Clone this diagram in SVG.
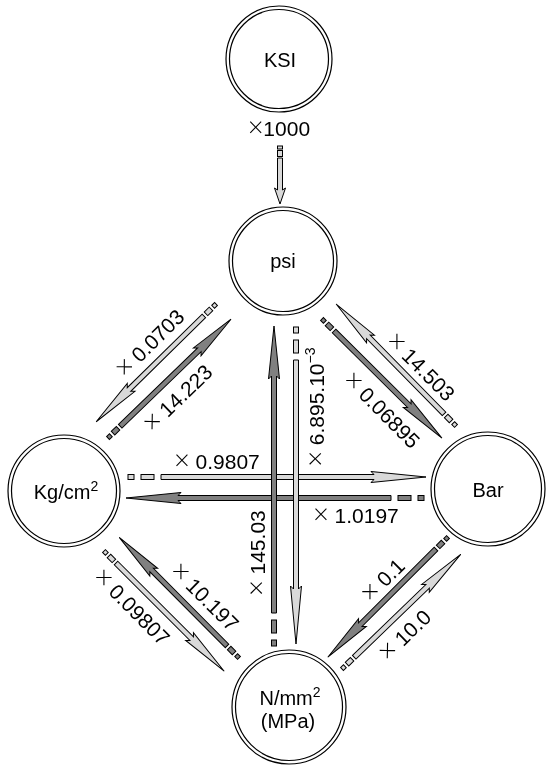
<svg xmlns="http://www.w3.org/2000/svg" width="546" height="767" viewBox="0 0 546 767">
<style>
.lt{fill:#d9d9d9;stroke:#000;stroke-width:1}
.dk{fill:#808080;stroke:#000;stroke-width:1}
.ring{fill:none;stroke:#000;stroke-width:1.2}
.bg{fill:#fff;stroke:#000;stroke-width:1.2}
text{font-family:"Liberation Sans",Arial,sans-serif;font-size:21px;fill:#000;text-anchor:middle}
.nt{font-size:20px}
.mx{font-family:"Open Sans","DejaVu Sans",sans-serif;font-weight:300;font-size:27px}
.sup{font-size:14px}
</style>
<rect width="546" height="767" fill="#fff"/>
<g id="connectors">
  <g id="a-ksi-psi" class="lt" transform="translate(280,146) rotate(90)">
    <rect x="0" y="-2.5" width="3" height="5"/><rect x="4.5" y="-2.5" width="6" height="5"/>
    <path d="M12,-2.5H44L42,-5.5L58,0L42,5.5L44,2.5H12Z"/>
  </g>
  <g id="a-psi-kg" class="lt" transform="translate(216,304) rotate(135.5)">
    <rect x="0" y="-2" width="4" height="4"/><rect x="7" y="-2.5" width="7" height="5"/>
    <path d="M17,-2.5H122L119,-5.5L168,0L119,5.5L122,2.5H17Z"/>
  </g>
  <g id="a-kg-psi" class="dk" transform="translate(108,438) rotate(-44)">
    <rect x="0" y="-2" width="4" height="4"/><rect x="7" y="-2.5" width="7" height="5"/>
    <path d="M17,-2.5H127L124,-5.5L171,0L124,5.5L127,2.5H17Z"/>
  </g>
  <g id="a-bar-psi" class="lt" transform="translate(456,426) rotate(225.5)">
    <rect x="0" y="-2" width="4" height="4"/><rect x="7" y="-2.5" width="7" height="5"/>
    <path d="M17,-2.5H125L122,-5.5L171,0L122,5.5L125,2.5H17Z"/>
  </g>
  <g id="a-psi-bar" class="dk" transform="translate(322,319) rotate(44.8)">
    <rect x="0" y="-2" width="4" height="4"/><rect x="7" y="-2.5" width="7" height="5"/>
    <path d="M17,-2.5H123L120,-5.5L169,0L120,5.5L123,2.5H17Z"/>
  </g>
  <g id="a-kg-bar" class="lt" transform="translate(128,477)">
    <rect x="0" y="-2.5" width="6" height="5"/><rect x="13" y="-2.5" width="13" height="5"/>
    <path d="M33,-2.5H246L243,-5.5L298,0L243,5.5L246,2.5H33Z"/>
  </g>
  <g id="a-bar-kg" class="dk" transform="translate(424,498) rotate(180)">
    <rect x="0" y="-2.5" width="6" height="5"/><rect x="13" y="-2.5" width="13" height="5"/>
    <path d="M33,-2.5H246L243,-5.5L298,0L243,5.5L246,2.5H33Z"/>
  </g>
  <g id="a-n-psi" class="dk" transform="translate(274,646) rotate(-90)">
    <rect x="0" y="-2.5" width="6" height="5"/><rect x="13" y="-2.5" width="13" height="5"/>
    <path d="M33,-2.5H270L267,-5.5L320,0L267,5.5L270,2.5H33Z"/>
  </g>
  <g id="a-psi-n" class="lt" transform="translate(296,327) rotate(90)">
    <rect x="0" y="-2.5" width="6" height="5"/><rect x="13" y="-2.5" width="13" height="5"/>
    <path d="M33,-2.5H262L259,-5.5L317,0L259,5.5L262,2.5H33Z"/>
  </g>
  <g id="a-bar-n" class="dk" transform="translate(448,537) rotate(135)">
    <rect x="0" y="-2" width="4" height="4"/><rect x="7" y="-2.5" width="7" height="5"/>
    <path d="M17,-2.5H124L121,-5.5L170,0L121,5.5L124,2.5H17Z"/>
  </g>
  <g id="a-n-bar" class="lt" transform="translate(342,669) rotate(-44)">
    <rect x="0" y="-2" width="4" height="4"/><rect x="7" y="-2.5" width="7" height="5"/>
    <path d="M17,-2.5H119L116,-5.5L165,0L116,5.5L119,2.5H17Z"/>
  </g>
  <g id="a-n-kg" class="dk" transform="translate(239,658) rotate(225.2)">
    <rect x="0" y="-2" width="4" height="4"/><rect x="7" y="-2.5" width="7" height="5"/>
    <path d="M17,-2.5H124L121,-5.5L170,0L121,5.5L124,2.5H17Z"/>
  </g>
  <g id="a-kg-n" class="lt" transform="translate(104,551) rotate(45)">
    <rect x="0" y="-2" width="4" height="4"/><rect x="7" y="-2.5" width="7" height="5"/>
    <path d="M17,-2.5H124L121,-5.5L170,0L121,5.5L124,2.5H17Z"/>
  </g>
</g>
<g id="labels" opacity="0.999">
  <text x="279" y="136"><tspan class="mx" dy="1">×</tspan><tspan dy="-1">1000</tspan></text>
  <text transform="translate(150,343) rotate(-44.5)" y="7.5"><tspan class="mx" dy="1">×</tspan><tspan dy="-1"> 0.0703</tspan></text>
  <text transform="translate(178,398) rotate(-44)" y="7.5"><tspan class="mx" dy="1">×</tspan><tspan dy="-1"> 14.223</tspan></text>
  <text transform="translate(421,367) rotate(45)" y="7.5"><tspan class="mx" dy="1">×</tspan><tspan dy="-1"> 14.503</tspan></text>
  <text transform="translate(382,410) rotate(45)" y="7.5"><tspan class="mx" dy="1">×</tspan><tspan dy="-1"> 0.06895</tspan></text>
  <text transform="translate(217,461)" y="7.5"><tspan class="mx" dy="1">×</tspan><tspan dy="-1"> 0.9807</tspan></text>
  <text transform="translate(356,515.5)" y="7.5"><tspan class="mx" dy="1">×</tspan><tspan dy="-1"> 1.0197</tspan></text>
  <text transform="translate(257,553) rotate(-90)" y="7.5"><tspan class="mx" dy="1">×</tspan><tspan dy="-1"> 145.03</tspan></text>
  <text transform="translate(316,407) rotate(-90)" y="7.5"><tspan class="mx" dy="1">×</tspan><tspan dy="-1"> 6.895.10</tspan><tspan class="sup" dy="-9">−3</tspan></text>
  <text transform="translate(205,597) rotate(45)" y="7.5"><tspan class="mx" dy="1">×</tspan><tspan dy="-1"> 10.197</tspan></text>
  <text transform="translate(132,607) rotate(45)" y="7.5"><tspan class="mx" dy="1">×</tspan><tspan dy="-1"> 0.09807</tspan></text>
  <text transform="translate(383,580) rotate(-45)" y="7.5"><tspan class="mx" dy="1">×</tspan><tspan dy="-1"> 0.1</tspan></text>
  <text transform="translate(405,635) rotate(-44)" y="7.5"><tspan class="mx" dy="1">×</tspan><tspan dy="-1"> 10.0</tspan></text>
</g>
<g id="n-ksi"><circle class="bg" cx="279" cy="59" r="53"/><circle class="ring" cx="279" cy="59" r="49.5"/><text class="nt" x="280" y="67">KSI</text></g>
<g id="n-psi"><circle class="bg" cx="283" cy="261" r="54"/><circle class="ring" cx="283" cy="261" r="50.5"/><text class="nt" x="283" y="268">psi</text></g>
<g id="n-kg"><circle class="bg" cx="64" cy="491" r="56"/><circle class="ring" cx="64" cy="491" r="52.5"/><text class="nt" x="66" y="499">Kg/cm<tspan class="sup" dy="-8">2</tspan></text></g>
<g id="n-bar"><circle class="bg" cx="488" cy="489" r="57"/><circle class="ring" cx="488" cy="489" r="53.5"/><text class="nt" x="488" y="497">Bar</text></g>
<g id="n-n"><circle class="bg" cx="289" cy="707" r="57"/><circle class="ring" cx="289" cy="707" r="53.5"/><text class="nt" x="290" y="705">N/mm<tspan class="sup" dy="-8">2</tspan></text><text class="nt" x="288" y="728">(MPa)</text></g>
</svg>
